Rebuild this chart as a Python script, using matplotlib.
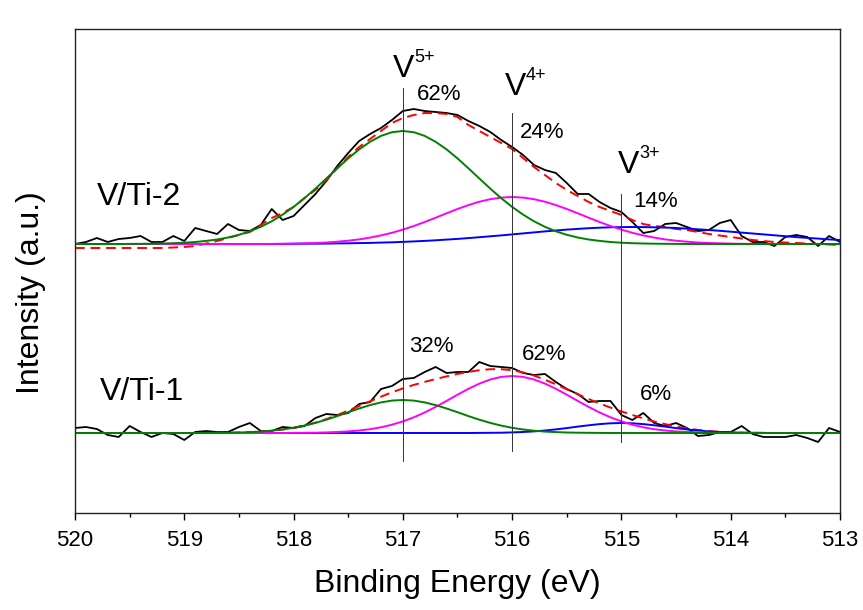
import numpy as np
import matplotlib
matplotlib.use("Agg")
from matplotlib import pyplot as plt

plt.rcParams["font.family"] = ["Liberation Sans", "DejaVu Sans"]

# binding energy grid, 0.1 eV steps from 520 down to 513
energy = np.round(np.arange(520.0, 512.95, -0.1), 1)

# V/Ti-2 (upper trace, baseline ~269)
raw_2 = [269, 271, 275, 271, 274, 275, 277, 271, 271, 277, 272, 285, 282, 279, 289, 283, 282, 288, 304, 293,
         297, 308, 319, 332, 347, 360, 372, 379, 385, 393, 402, 404, 402, 401, 400, 398, 392, 387, 381, 373,
         366, 358, 348, 343, 340, 330, 319, 319, 311, 305, 301, 291, 280, 282, 289, 290, 286, 282, 283, 290,
         293, 277, 271, 271, 267, 276, 278, 276, 267, 277, 271]
fit_2 = [265, 265, 265, 265, 265, 265, 265, 265, 265, 265.5, 266, 267, 269.5, 272, 275, 278, 281, 288, 295, 300,
         306, 315, 323, 333, 345, 356, 366, 374, 382, 390, 395, 398, 400, 400, 399, 396, 388, 382, 376, 370,
         364, 355, 346, 338, 330, 323, 317, 311, 306, 302, 298, 293, 289, 287, 286, 284, 283, 281, 279, 277.5,
         276, 274.5, 273, 272, 271, 270.5, 270, 269.5, 269, 268.5, 268]
v5_2 = [269, 269, 269, 269, 269, 269.1, 269.2, 269.3, 269.5, 269.8, 270.3, 271.0, 272.1, 273.5, 275.5, 278.2,
        281.7, 286.2, 291.7, 298.4, 306.1, 314.8, 324.4, 334.5, 344.7, 354.6, 363.6, 371.2, 377.1, 380.8, 382.0,
        380.8, 377.1, 371.2, 363.6, 354.6, 344.7, 334.5, 324.4, 314.8, 306.1, 298.4, 291.7, 286.2, 281.7, 278.2,
        275.5, 273.5, 272.1, 271.0, 270.3, 269.8, 269.5, 269.3, 269.2, 269.1,
        269, 269, 269, 269, 269, 269, 269, 269, 269, 269, 269, 269, 269, 269, 269]
v4_2 = [269] * 18 + [269.1, 269.2, 269.4, 269.7, 270.0, 270.5, 271.3, 272.3, 273.6, 275.4, 277.6, 280.2, 283.4,
                     287.0, 291.0, 295.3, 299.7, 304.0, 307.9, 311.3, 313.8, 315.4, 316.0, 315.4, 313.8, 311.3,
                     307.9, 304.0, 299.7, 295.3, 291.0, 287.0, 283.4, 280.2, 277.6, 275.4, 273.6, 272.3, 271.3,
                     270.5, 270.0, 269.7, 269.4, 269.2, 269.1] + [269] * 8
v3_2 = [269] * 19 + [269.1, 269.2, 269.3, 269.3, 269.4, 269.6, 269.7, 269.9, 270.1, 270.4, 270.7, 271.1, 271.6,
                     272.1, 272.7, 273.4, 274.1, 274.9, 275.8, 276.7, 277.6, 278.6, 279.6, 280.6, 281.6, 282.5,
                     283.4, 284.1, 284.8, 285.3, 285.7, 285.9, 286.0, 285.9, 285.7, 285.4, 285.0, 284.4, 283.7,
                     283.0, 282.2, 281.3, 280.4, 279.5, 278.6, 277.7, 276.8, 275.9, 275.1, 274.4, 273.6, 273.0]

# V/Ti-1 (lower trace, baseline ~80)
raw_1 = [85, 86, 84, 78, 76, 87, 81, 76, 80, 79, 73, 81, 82, 81, 81, 86, 90, 82, 82, 86,
         85, 87, 95, 99, 98, 100, 109, 111, 124, 127, 134, 135, 141, 146, 140, 141, 141, 151, 147, 146,
         145, 140, 138, 139, 131, 124, 119, 111, 112, 112, 98, 93, 100, 90, 87, 90, 85, 77, 78, 81,
         81, 87, 79, 76, 76, 76, 78, 75, 71, 85, 81]
fit_1 = [80] * 12 + [80.1, 80.2, 80.3, 80.5, 80.9, 81.4, 82.3, 83.5, 85.3, 87.6, 90.4, 93.9, 97.9, 102.4, 107.0,
                     111.7, 116.3, 120.7, 124.6, 128.1, 131.1, 134.0, 136.6, 139.1, 141.1, 142.8, 143.8, 143.8,
                     142.8, 140.6, 137.4, 133.3, 128.7, 123.7, 118.8, 114.0, 109.5, 105.4, 101.6, 98.0, 94.6,
                     91.5, 88.9, 86.5, 84.6, 83.1, 81.9, 81.2, 80.7, 80.3, 80.2, 80.1] + [80] * 7
v5_1 = [80] * 12 + [80.1, 80.2, 80.3, 80.5, 80.9, 81.4, 82.3, 83.5, 85.2, 87.4, 90.1, 93.3, 96.9, 100.8, 104.5,
                    107.9, 110.6, 112.4, 113.0, 112.4, 110.6, 107.9, 104.5, 100.8, 96.9, 93.3, 90.1, 87.4, 85.2,
                    83.5, 82.3, 81.4, 80.9, 80.5, 80.3, 80.2, 80.1] + [80] * 22
v4_1 = [80] * 20 + [80.1, 80.2, 80.3, 80.6, 81.0, 81.6, 82.5, 83.8, 85.7, 88.3, 91.6, 95.7, 100.5, 106.1, 112.1,
                    118.3, 124.2, 129.4, 133.5, 136.1, 137.0, 136.1, 133.5, 129.4, 124.2, 118.3, 112.1, 106.1,
                    100.5, 95.7, 91.6, 88.3, 85.7, 83.8, 82.5, 81.6, 81.0, 80.6, 80.3, 80.2, 80.1] + [80] * 10
v3_1 = [80] * 37 + [80.1, 80.2, 80.3, 80.6, 81.0, 81.6, 82.5, 83.6, 84.9, 86.4, 87.7, 88.9, 89.7, 90.0, 89.7,
                    88.9, 87.7, 86.4, 84.9, 83.6, 82.5, 81.6, 81.0, 80.6, 80.3, 80.2, 80.1] + [80] * 7

# oxidation state markers: position, line extent, label anchor
states = ["5+", "4+", "3+"]
state_pos = [517.0, 516.0, 515.0]
state_line = [(52, 425), (62, 400), (71, 319)]
state_label = [(517.09, 436), (516.07, 418), (515.03, 340)]

pct_2 = ["62%", "24%", "14%"]
pct_2_pos = [(516.87, 413), (515.93, 375), (514.89, 306)]
pct_1 = ["32%", "62%", "6%"]
pct_1_pos = [(516.94, 161), (515.91, 153), (514.83, 113)]

fig = plt.figure(figsize=(8.63, 6.10), dpi=100)
ax = fig.add_axes([75 / 863, 97 / 610, 765 / 863, 484 / 610])

for raw, fit, v5, v4, v3 in [(raw_2, fit_2, v5_2, v4_2, v3_2), (raw_1, fit_1, v5_1, v4_1, v3_1)]:
    ax.plot(energy, raw, color="black", lw=1.3)
    ax.plot(energy, fit, color="#ff0000", lw=1.4, linestyle=(0, (5, 3)))
    ax.plot(energy, v3, color="#0000ff", lw=1.4)
    ax.plot(energy, v4, color="#ff00ff", lw=1.4)
    ax.plot(energy, v5, color="#008000", lw=1.4)

for pos, (y0, y1) in zip(state_pos, state_line):
    ax.plot([pos, pos], [y0, y1], color="#333333", lw=0.7)

for st, (x, y) in zip(states, state_label):
    ax.text(x, y, "V", fontsize=23, ha="left", va="baseline")
    ax.annotate(st, (x, y), xytext=(15.5, 11), textcoords="offset points",
                fontsize=13, ha="left", va="baseline")

for txt, (x, y) in zip(pct_2 + pct_1, pct_2_pos + pct_1_pos):
    ax.text(x, y, txt, fontsize=16, ha="left", va="baseline")

ax.text(519.80, 308, "V/Ti-2", fontsize=23, ha="left", va="baseline")
ax.text(519.77, 113, "V/Ti-1", fontsize=23, ha="left", va="baseline")

ax.set_xlim(520, 513)
ax.set_ylim(0, 484)
ax.set_xticks([520, 519, 518, 517, 516, 515, 514, 513])
ax.set_xticks(np.arange(513.5, 520, 1.0), minor=True)
ax.set_yticks([])
ax.tick_params(axis="x", which="major", direction="out", length=5, width=1, labelsize=16, pad=7)
ax.tick_params(axis="x", which="minor", direction="out", length=3, width=1)
for sp in ax.spines.values():
    sp.set_linewidth(1.0)
    sp.set_color("#222222")

ax.set_xlabel("Binding Energy (eV)", fontsize=23, labelpad=13)
ax.set_ylabel("Intensity (a.u.)", fontsize=23)
ax.yaxis.set_label_coords(-0.038, 0.455)

plt.savefig("out.png", dpi=100)
